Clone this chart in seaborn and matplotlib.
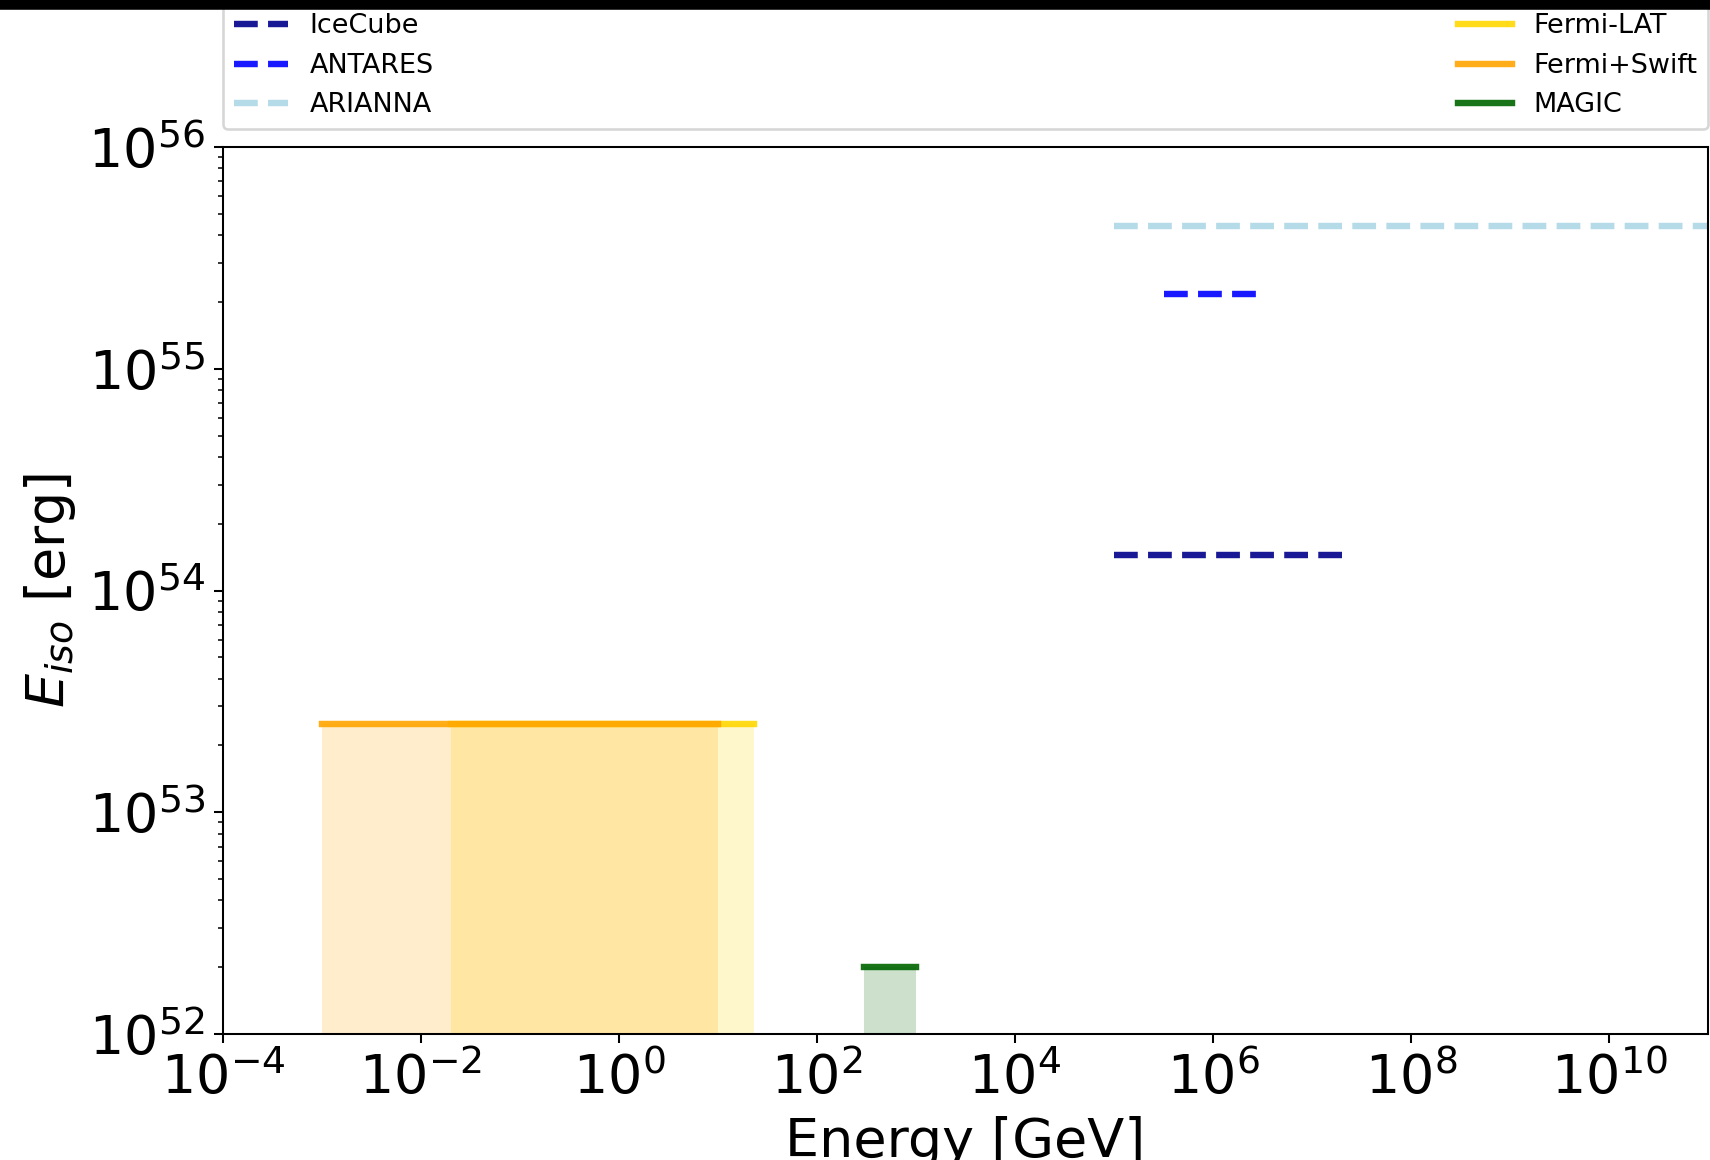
import matplotlib
matplotlib.use("Agg")
import matplotlib.pyplot as plt
import seaborn as sns
from matplotlib.patches import Rectangle

# instrument energy ranges [GeV] and isotropic energy levels [erg]
instruments = ["IceCube", "ANTARES", "ARIANNA", "Fermi-LAT", "Fermi+Swift", "MAGIC"]
e_low = [1e5, 3.2e5, 1e5, 2e-2, 1e-3, 3e2]
e_high = [2e7, 3e6, 1e12, 23, 10, 1e3]
e_iso = [1.44e54, 2.17e55, 4.4e55, 2.5e53, 2.5e53, 2.0e52]
colors = ["darkblue", "blue", "lightblue", "gold", "orange", "darkgreen"]
styles = ["--", "--", "--", "-", "-", "-"]
shaded = [False, False, False, True, True, True]

dpi = 185
fig = plt.figure(figsize=(1710 / dpi, 1160 / dpi), dpi=dpi)
ax = fig.add_axes([223 / 1710, 126 / 1160, (1708 - 223) / 1710, (1034 - 147) / 1160])
ax.set_xscale("log")
ax.set_yscale("log")

y_floor = 1e52

for name, lo, hi, val, col, ls, fill in zip(instruments, e_low, e_high, e_iso, colors, styles, shaded):
    sns.lineplot(ax=ax, x=[lo, hi], y=[val, val], color=col, linestyle=ls,
                 linewidth=2.5, alpha=0.9, label=name)
    if fill:
        ax.fill_between([lo, hi], y_floor, val, color=col, alpha=0.2, linewidth=0)

ax.set_xlim(1e-4, 1e11)
ax.set_ylim(1e52, 1e56)

ax.set_xlabel("Energy [GeV]", fontsize=21)
ax.set_ylabel(r"$E_{iso}$ [erg]", fontsize=21)
ax.tick_params(axis="both", which="major", labelsize=21)

ax.legend(bbox_to_anchor=(0, 1.02, 1, 0.2), loc="lower left", mode="expand",
          ncol=2, borderaxespad=0, fontsize=10.5)

# dark strip along the top edge
fig.add_artist(Rectangle((0, 1 - 7.5 / 1160), 1, 7.5 / 1160, transform=fig.transFigure,
                         color="black", zorder=10))

plt.savefig("out.png", dpi=dpi)
